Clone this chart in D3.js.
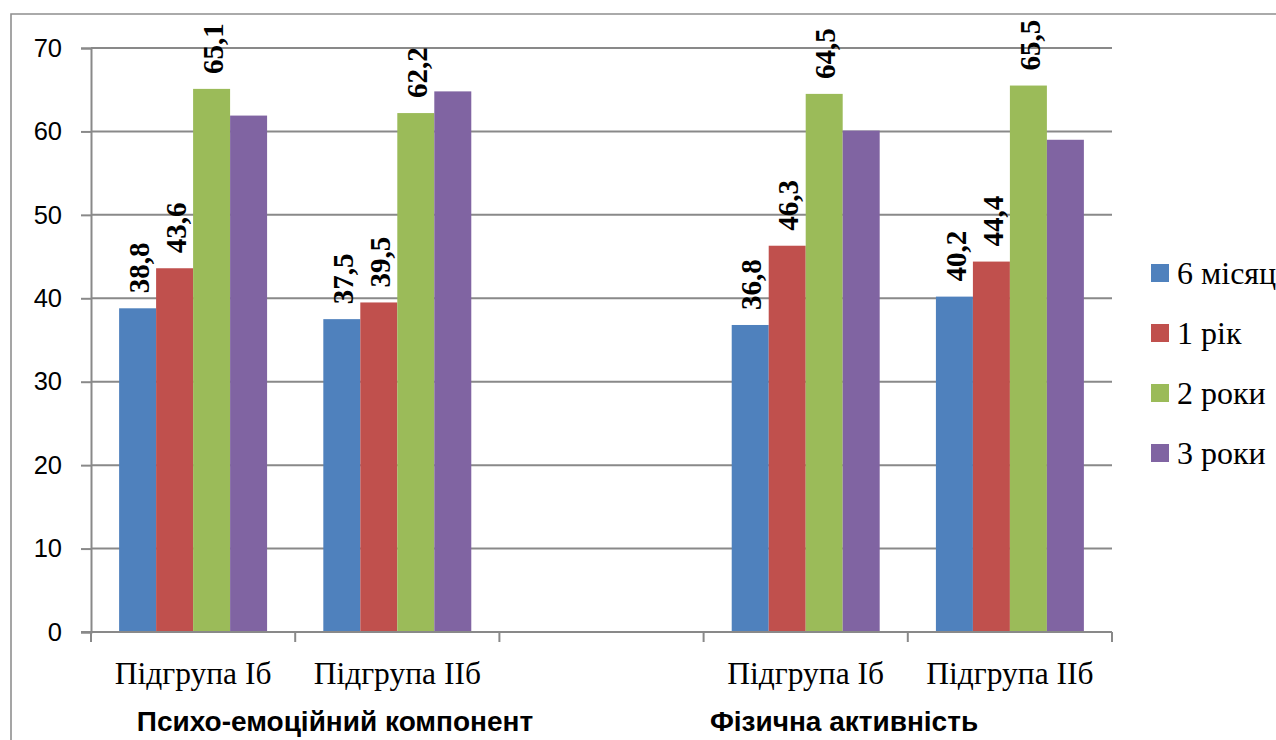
<!DOCTYPE html>
<html lang="uk">
<head>
<meta charset="utf-8">
<script src="https://cdn.jsdelivr.net/npm/d3@7"></script>
<style>
  html, body { margin: 0; padding: 0; background: #fff; overflow: hidden; }
  svg { display: block; }
</style>
</head>
<body>
<svg id="chart" width="1276" height="740"></svg>
<script>
// Category slots along the x axis (the empty slot separates the two blocks)
const categories = ["Підгрупа Іб", "Підгрупа ІІб", "", "Підгрупа Іб", "Підгрупа ІІб"];
const seriesNames = ["6 місяців", "1 рік", "2 роки", "3 роки"];
const seriesColors = ["#4F81BD", "#C0504D", "#9BBB59", "#8064A2"];

// Values per series, one per category slot
const values6m = [38.8, 37.5, null, 36.8, 40.2];
const values1y = [43.6, 39.5, null, 46.3, 44.4];
const values2y = [65.1, 62.2, null, 64.5, 65.5];
const values3y = [61.9, 64.8, null, 60.1, 59.0];
const showLabels = [true, true, true, false];

const yTicks = [0, 10, 20, 30, 40, 50, 60, 70];
const groupTitles = ["Психо-емоційний компонент", "Фізична активність"];
const groupTitleCenters = [335, 844];

const seriesValues = [values6m, values1y, values2y, values3y];

const svg = d3.select("#chart");
const plot = { left: 91, right: 1112, top: 48, bottom: 632 };
const gridColor = "#898989";

// Outer chart frame (left and top edges)
svg.append("path")
  .attr("d", `M11,740 L11,14 L1276,14`)
  .attr("fill", "none")
  .attr("stroke", "#8f8f8f")
  .attr("stroke-width", 1.6);

const slotIds = categories.map((c, i) => i);
const x0 = d3.scaleBand().domain(slotIds).range([plot.left, plot.right]).padding(0);
const x1 = d3.scaleBand().domain(d3.range(seriesNames.length))
  .range([0, x0.bandwidth()]).paddingInner(0).paddingOuter(0.76);
const y = d3.scaleLinear().domain([0, 70]).range([plot.bottom, plot.top]);

// Horizontal gridlines
svg.append("g")
  .selectAll("line")
  .data(yTicks.filter(t => t > 0))
  .join("line")
  .attr("x1", plot.left).attr("x2", plot.right)
  .attr("y1", d => y(d)).attr("y2", d => y(d))
  .attr("stroke", gridColor).attr("stroke-width", 2);

// Y axis
const yAxis = svg.append("g")
  .attr("transform", `translate(${plot.left},0)`)
  .call(d3.axisLeft(y).tickValues(yTicks).tickSize(10).tickPadding(19).tickFormat(d3.format("d")));
yAxis.select(".domain").attr("stroke", gridColor).attr("stroke-width", 2);
yAxis.selectAll(".tick line").attr("stroke", gridColor).attr("stroke-width", 2);
yAxis.selectAll(".tick text")
  .attr("font-family", "'Liberation Sans', Arial, sans-serif")
  .attr("font-size", 25.5).attr("fill", "#000");

// Bars
const barData = [];
seriesValues.forEach((vals, s) => {
  vals.forEach((v, i) => { if (v != null) barData.push({ s, i, v }); });
});

svg.append("g")
  .selectAll("rect")
  .data(barData)
  .join("rect")
  .attr("x", d => x0(d.i) + x1(d.s))
  .attr("width", x1.bandwidth())
  .attr("y", d => y(d.v))
  .attr("height", d => y(0) - y(d.v))
  .attr("fill", d => seriesColors[d.s]);

// Rotated value labels
svg.append("g")
  .selectAll("text")
  .data(barData.filter(d => showLabels[d.s]))
  .join("text")
  .attr("transform", d => `translate(${x0(d.i) + x1(d.s) + x1.bandwidth() / 2 + 1},${y(d.v) - 15}) rotate(-90)`)
  .attr("dy", "0.35em")
  .attr("text-anchor", "start")
  .attr("font-family", "'Liberation Serif', 'Times New Roman', serif")
  .attr("font-weight", "bold")
  .attr("font-size", 29)
  .attr("fill", "#000")
  .text(d => d3.format(".1f")(d.v).replace(".", ","));

// X axis baseline with slot boundary ticks
const xAxis = svg.append("g");
xAxis.append("line")
  .attr("x1", plot.left - 10).attr("x2", plot.right)
  .attr("y1", plot.bottom).attr("y2", plot.bottom)
  .attr("stroke", gridColor).attr("stroke-width", 2);
xAxis.selectAll(".bt")
  .data(slotIds.concat([categories.length]))
  .join("line")
  .attr("class", "bt")
  .attr("x1", d => d < categories.length ? x0(d) : plot.right)
  .attr("x2", d => d < categories.length ? x0(d) : plot.right)
  .attr("y1", plot.bottom).attr("y2", plot.bottom + 10)
  .attr("stroke", gridColor).attr("stroke-width", 2);

// Category labels
xAxis.selectAll(".cat")
  .data(slotIds.filter(i => categories[i] !== ""))
  .join("text")
  .attr("class", "cat")
  .attr("x", d => x0(d) + x0.bandwidth() / 2)
  .attr("y", 684)
  .attr("text-anchor", "middle")
  .attr("font-family", "'Liberation Serif', 'Times New Roman', serif")
  .attr("font-size", 31.5)
  .attr("fill", "#000")
  .text(d => categories[d]);

// Group titles
svg.append("g")
  .selectAll("text")
  .data(groupTitles)
  .join("text")
  .attr("x", (d, i) => groupTitleCenters[i])
  .attr("y", 731)
  .attr("text-anchor", "middle")
  .attr("font-family", "'Liberation Sans', Arial, sans-serif")
  .attr("font-weight", "bold")
  .attr("font-size", 28)
  .attr("fill", "#000")
  .text(d => d);

// Legend
const legend = svg.append("g").attr("transform", "translate(1151,264)");
const items = legend.selectAll("g")
  .data(seriesNames)
  .join("g")
  .attr("transform", (d, i) => `translate(0,${i * 60})`);
items.append("rect")
  .attr("width", 18).attr("height", 18)
  .attr("fill", (d, i) => seriesColors[i]);
items.append("text")
  .attr("x", 26).attr("y", 9)
  .attr("dy", "0.35em")
  .attr("font-family", "'Liberation Serif', 'Times New Roman', serif")
  .attr("font-size", 32)
  .attr("fill", "#000")
  .text(d => d);
</script>
</body>
</html>
